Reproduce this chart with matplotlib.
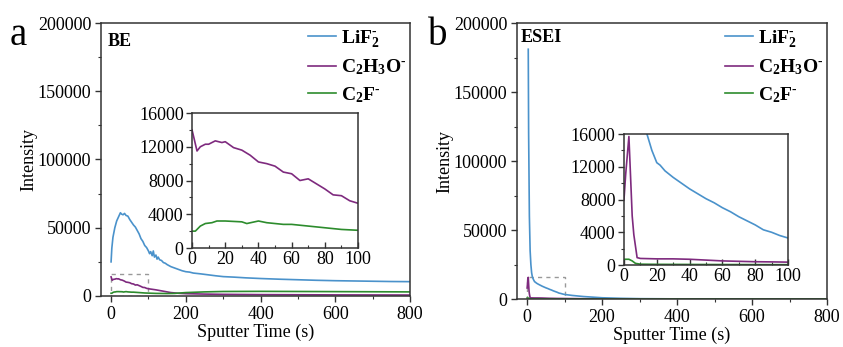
import numpy as np
import matplotlib.pyplot as plt
from matplotlib.ticker import MultipleLocator
from matplotlib.patches import Rectangle

plt.rcParams['font.family'] = ['Liberation Serif', 'DejaVu Serif']
plt.rcParams['mathtext.fontset'] = 'custom'
plt.rcParams['mathtext.rm'] = 'Liberation Serif'
plt.rcParams['mathtext.bf'] = 'Liberation Serif:bold'
plt.rcParams['font.size'] = 13

# ---- panel a (BE) ----
a_lif2_t = [0, 2, 5, 10, 15, 20, 25, 28, 32, 36, 40, 45, 50, 55, 60, 65, 70, 75, 80, 85,
            90, 95, 100, 103, 106, 110, 113, 116, 120, 123, 126, 130, 135, 140, 145, 150,
            160, 170, 180, 190, 200, 210, 220, 240, 260, 280, 300, 330, 360, 400, 450, 500,
            550, 600, 650, 700, 750, 800]
a_lif2 = [25000, 35000, 43000, 50000, 55000, 58000, 61000, 60000, 59500, 60500, 59000,
          58500, 56000, 54000, 52000, 50500, 48000, 45500, 42000, 40000, 37000, 35500,
          33000, 31000, 32500, 29500, 33000, 28500, 30000, 27000, 28500, 26500, 26000, 24500,
          24000, 23000, 21500, 20500, 19500, 18500, 17800, 17500, 16800, 16200, 15500,
          14800, 14200, 13800, 13300, 12800, 12300, 11900, 11500, 11200, 11000, 10800,
          10600, 10500]

a_c2h3o_t = [0, 3, 5, 8, 10, 14, 18, 20, 25, 30, 35, 40, 45, 50, 55, 60, 65, 70, 75, 80,
             85, 90, 95, 100, 120, 140, 160, 180, 200, 250, 300, 400, 500, 600, 800]
a_c2h3o = [14000, 11500, 12000, 12300, 12300, 12700, 12500, 12600, 11900, 11600, 11000,
           10200, 10000, 9700, 9000, 8800, 8000, 8200, 7600, 7000, 6300, 6200, 5600, 5300,
           4500, 3500, 2500, 2000, 1700, 1400, 1200, 1000, 900, 800, 700]

a_c2f_t = [0, 2, 5, 8, 12, 15, 20, 30, 33, 40, 45, 55, 60, 70, 80, 90, 100, 120, 150, 170,
           200, 250, 300, 400, 500, 600, 700, 800]
a_c2f = [2000, 2000, 2600, 2900, 3000, 3200, 3200, 3100, 2900, 3200, 3000, 2800, 2800,
         2600, 2400, 2200, 2100, 1900, 1800, 1900, 2500, 3000, 3300, 3400, 3300, 3200,
         3100, 3000]

# ---- panel b (ESEI) ----
b_lif2_t = [3, 4, 6, 8, 10, 12, 14, 17, 20, 22, 25, 30, 35, 40, 45, 50, 55, 60, 65, 70,
            75, 80, 85, 90, 95, 100, 120, 150, 200, 250, 300, 400, 500, 800]
b_lif2 = [181000, 120000, 60000, 35000, 25000, 19000, 16000, 14000, 12500, 12200,
          11500, 10700, 10000, 9300, 8700, 8100, 7600, 7000, 6500, 5900, 5400, 4900, 4300,
          4000, 3600, 3300, 2600, 1800, 900, 500, 250, 100, 50, 20]

b_c2h3o_t = [0, 1, 3, 5, 6, 8, 10, 20, 30, 40, 50, 60, 70, 80, 90, 100, 150, 200, 300, 800]
b_c2h3o = [8000, 11000, 15700, 6000, 3700, 900, 800, 750, 750, 700, 600, 500, 450, 400,
           380, 350, 200, 100, 50, 20]

b_c2f_t = [0, 3, 5, 7, 10, 20, 50, 100, 800]
b_c2f = [700, 700, 500, 200, 100, 80, 60, 40, 20]

labels = [r'$\mathbf{LiF_2^{\text{-}}}$', r'$\mathbf{C_2H_3O^{\text{-}}}$',
          r'$\mathbf{C_2F^{\text{-}}}$']
colors = ['#4a92cb', '#7e2a7e', '#2d8c2d']

panels = [
    ('BE', [(a_lif2_t, a_lif2), (a_c2h3o_t, a_c2h3o), (a_c2f_t, a_c2f)],
     [0.1198, 0.1470, 0.3666, 0.7867], [0.2278, 0.2853, 0.1969, 0.3890], 'a', 0.012,
     (0.022, 0.965)),
    ('ESEI', [(b_lif2_t, b_lif2), (b_c2h3o_t, b_c2h3o), (b_c2f_t, b_c2f)],
     [0.6133, 0.1383, 0.3677, 0.7954], [0.7402, 0.2363, 0.1945, 0.3775], 'b', 0.508,
     (0.013, 0.978)),
]

fig = plt.figure(figsize=(8.43, 3.47), dpi=100)
spine_col = '#333333'

for name, series, rect, irect, letter, lx, npos in panels:
    ax = fig.add_axes(rect)
    for (t, y), c, lab in zip(series, colors, labels):
        ax.plot(t, y, color=c, lw=1.2, label=lab)
    ax.set_xlim(-27, 800)
    ax.set_ylim(0, 200000)
    ax.xaxis.set_major_locator(MultipleLocator(200))
    ax.xaxis.set_minor_locator(MultipleLocator(100))
    ax.yaxis.set_major_locator(MultipleLocator(50000))
    ax.yaxis.set_minor_locator(MultipleLocator(25000))
    ax.tick_params(which='major', direction='out', length=4, width=1, pad=3, color=spine_col)
    ax.tick_params(which='minor', direction='out', length=2.5, width=0.8, color=spine_col)
    for s in ax.spines.values():
        s.set_color(spine_col)
        s.set_linewidth(1.1)
    ax.set_xlabel('Sputter Time (s)', labelpad=1)
    ax.set_ylabel('Intensity', labelpad=0)
    ax.add_patch(Rectangle((0, 0), 100, 16000, fill=False, ec='#999999', lw=1,
                           ls=(0, (3, 3))))
    ax.text(npos[0], npos[1], name, transform=ax.transAxes, fontweight='bold',
            fontsize=13, va='top', ha='left')
    ax.legend(loc='upper right', bbox_to_anchor=(1.045, 1.045), frameon=False,
              handlelength=1.45, handletextpad=0.25, labelspacing=0.4, fontsize=14)
    fig.text(lx, 0.87, letter, fontsize=28)

    ins = fig.add_axes(irect)
    for (t, y), c in zip(series, colors):
        ins.plot(t, y, color=c, lw=1.2)
    ins.set_xlim(0, 100)
    ins.set_ylim(0, 16000)
    ins.xaxis.set_major_locator(MultipleLocator(20))
    ins.xaxis.set_minor_locator(MultipleLocator(10))
    ins.yaxis.set_major_locator(MultipleLocator(4000))
    ins.yaxis.set_minor_locator(MultipleLocator(2000))
    ins.tick_params(which='major', length=4, width=1, pad=2, color=spine_col)
    ins.tick_params(which='minor', length=2.5, width=0.8, color=spine_col)
    ins.tick_params(axis='x', which='both', direction='in')
    ins.tick_params(axis='y', which='both', direction='out')
    for s in ins.spines.values():
        s.set_color(spine_col)
        s.set_linewidth(1.1)

fig.savefig('out.png', dpi=100)
